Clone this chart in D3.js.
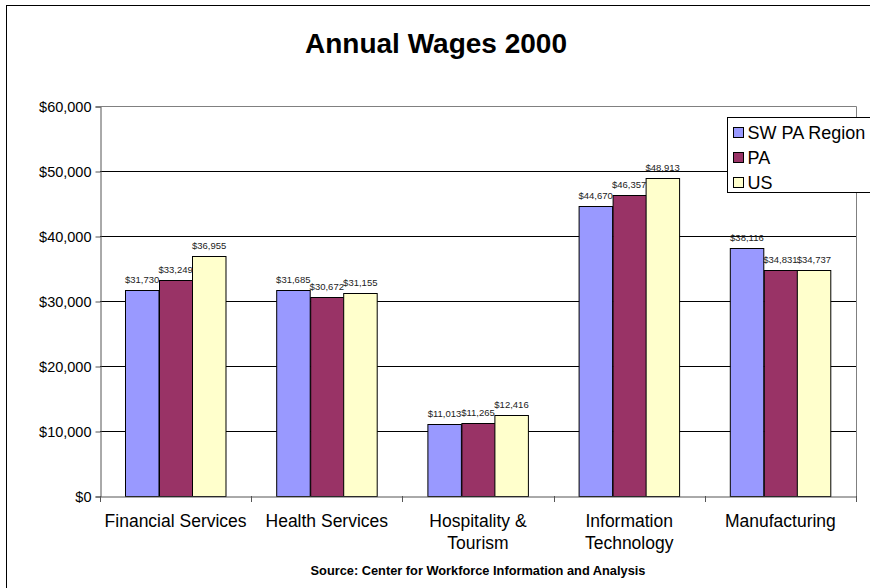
<!DOCTYPE html>
<html>
<head>
<meta charset="utf-8">
<script src="https://cdn.jsdelivr.net/npm/d3@7"></script>
<style>
  body { margin: 0; background: #fff; }
  text { font-family: Arial, "Liberation Sans", sans-serif; }
</style>
</head>
<body>
<div id="chart"></div>
<script>
const categories = [
  "Financial Services",
  "Health Services",
  "Hospitality & Tourism",
  "Information Technology",
  "Manufacturing",
];
const categoryLines = [
  ["Financial Services"],
  ["Health Services"],
  ["Hospitality &", "Tourism"],
  ["Information", "Technology"],
  ["Manufacturing"],
];
const seriesNames = ["SW PA Region", "PA", "US"];
const swpaValues = [31730, 31685, 11013, 44670, 38116];
const paValues = [33249, 30672, 11265, 46357, 34831];
const usValues = [36955, 31155, 12416, 48913, 34737];
const yTicks = [0, 10000, 20000, 30000, 40000, 50000, 60000];
const colors = ["#9999ff", "#993366", "#ffffcc"];

const seriesValues = [swpaValues, paValues, usValues];
const data = categories.map((c, i) => ({
  category: c,
  values: seriesNames.map((s, j) => ({ series: s, value: seriesValues[j][i] })),
}));

const W = 870, H = 588;
const plot = { left: 100, right: 856, top: 106, bottom: 496 };

const svg = d3
  .select("#chart")
  .append("svg")
  .attr("width", W)
  .attr("height", H);

// outer chart border (runs off the right and bottom edges)
svg
  .append("rect")
  .attr("x", 6.5)
  .attr("y", 5.5)
  .attr("width", 880)
  .attr("height", 600)
  .attr("fill", "#fff")
  .attr("stroke", "#000");

svg
  .append("text")
  .attr("x", 436)
  .attr("y", 53)
  .attr("text-anchor", "middle")
  .style("font-size", "28px")
  .style("font-weight", "bold")
  .text("Annual Wages 2000");

const x0 = d3.scaleBand(categories, [plot.left, plot.right]);
const x1 = d3
  .scaleBand(seriesNames, [0, x0.bandwidth()])
  .paddingOuter(0.757);
const y = d3.scaleLinear([0, 60000], [plot.bottom, plot.top]);

// gridlines
svg
  .append("g")
  .selectAll("line")
  .data(yTicks.slice(1, -1))
  .join("line")
  .attr("x1", plot.left)
  .attr("x2", plot.right)
  .attr("y1", (d) => Math.round(y(d)) + 0.5)
  .attr("y2", (d) => Math.round(y(d)) + 0.5)
  .attr("stroke", "#000");

// plot area border
svg
  .append("path")
  .attr(
    "d",
    `M${plot.left + 0.5},${plot.top + 0.5}H${plot.right + 0.5}V${plot.bottom + 0.5}`
  )
  .attr("fill", "none")
  .attr("stroke", "#808080");

// bars
const groups = svg
  .append("g")
  .selectAll("g")
  .data(data)
  .join("g")
  .attr("transform", (d) => `translate(${x0(d.category)},0)`);

groups
  .selectAll("rect")
  .data((d) => d.values)
  .join("rect")
  .attr("x", (d) => Math.round(x1(d.series)) + 0.5)
  .attr("y", (d) => Math.round(y(d.value)) + 0.5)
  .attr("width", x1.bandwidth())
  .attr("height", (d) => plot.bottom - Math.round(y(d.value)))
  .attr("fill", (d, i) => colors[i])
  .attr("stroke", "#000");

groups
  .selectAll("text")
  .data((d) => d.values)
  .join("text")
  .attr("x", (d) => x1(d.series) + x1.bandwidth() / 2)
  .attr("y", (d) => y(d.value) - 7)
  .attr("text-anchor", "middle")
  .style("font-size", "9.5px")
  .attr("fill", "#222")
  .text((d) => "$" + d3.format(",")(d.value));

// y axis
const yAxis = svg
  .append("g")
  .attr("transform", `translate(${plot.left + 0.5},0.5)`)
  .call(
    d3
      .axisLeft(y)
      .tickValues(yTicks)
      .tickSize(5)
      .tickPadding(4)
      .tickFormat((d) => "$" + d3.format(",")(d))
  );
yAxis.select(".domain").attr("stroke", "#555");
yAxis.selectAll(".tick line").attr("stroke", "#555");
yAxis
  .selectAll(".tick text")
  .attr("fill", "#000")
  .style("font-size", "14.5px")
  .style("font-family", "Arial, 'Liberation Sans', sans-serif");

// x axis
const xAxis = svg
  .append("g")
  .attr("transform", `translate(0,${plot.bottom + 0.5})`)
  .call(d3.axisBottom(x0).tickSize(0).tickFormat(""));
xAxis.select(".domain").attr("stroke", "#555");

svg
  .append("g")
  .selectAll("line")
  .data(categories.concat([null]))
  .join("line")
  .attr("x1", (d, i) => Math.round(plot.left + i * x0.step()) + 0.5)
  .attr("x2", (d, i) => Math.round(plot.left + i * x0.step()) + 0.5)
  .attr("y1", plot.bottom)
  .attr("y2", plot.bottom + 6)
  .attr("stroke", "#555");

svg
  .append("g")
  .selectAll("text")
  .data(categories)
  .join("text")
  .attr("x", (d) => x0(d) + x0.bandwidth() / 2)
  .attr("y", 527)
  .attr("text-anchor", "middle")
  .style("font-size", "17.5px")
  .selectAll("tspan")
  .data((d, i) => categoryLines[i])
  .join("tspan")
  .attr("x", function () {
    return d3.select(this.parentNode).attr("x");
  })
  .attr("dy", (d, i) => (i === 0 ? 0 : 22))
  .text((d) => d);

svg
  .append("text")
  .attr("x", (plot.left + plot.right) / 2)
  .attr("y", 575)
  .attr("text-anchor", "middle")
  .style("font-size", "12.8px")
  .style("font-weight", "bold")
  .text("Source: Center for Workforce Information and Analysis");

// legend
const legend = svg.append("g").attr("transform", "translate(727.5,117.5)");
legend
  .append("rect")
  .attr("width", 160)
  .attr("height", 75)
  .attr("fill", "#fff")
  .attr("stroke", "#000");
const items = legend
  .selectAll("g")
  .data(seriesNames)
  .join("g")
  .attr("transform", (d, i) => `translate(0,${15 + i * 25})`);
items
  .append("rect")
  .attr("x", 6)
  .attr("y", -5)
  .attr("width", 10)
  .attr("height", 10)
  .attr("fill", (d, i) => colors[i])
  .attr("stroke", "#000");
items
  .append("text")
  .attr("x", 20)
  .attr("y", 6.5)
  .style("font-size", "18px")
  .text((d) => d);
</script>
</body>
</html>
